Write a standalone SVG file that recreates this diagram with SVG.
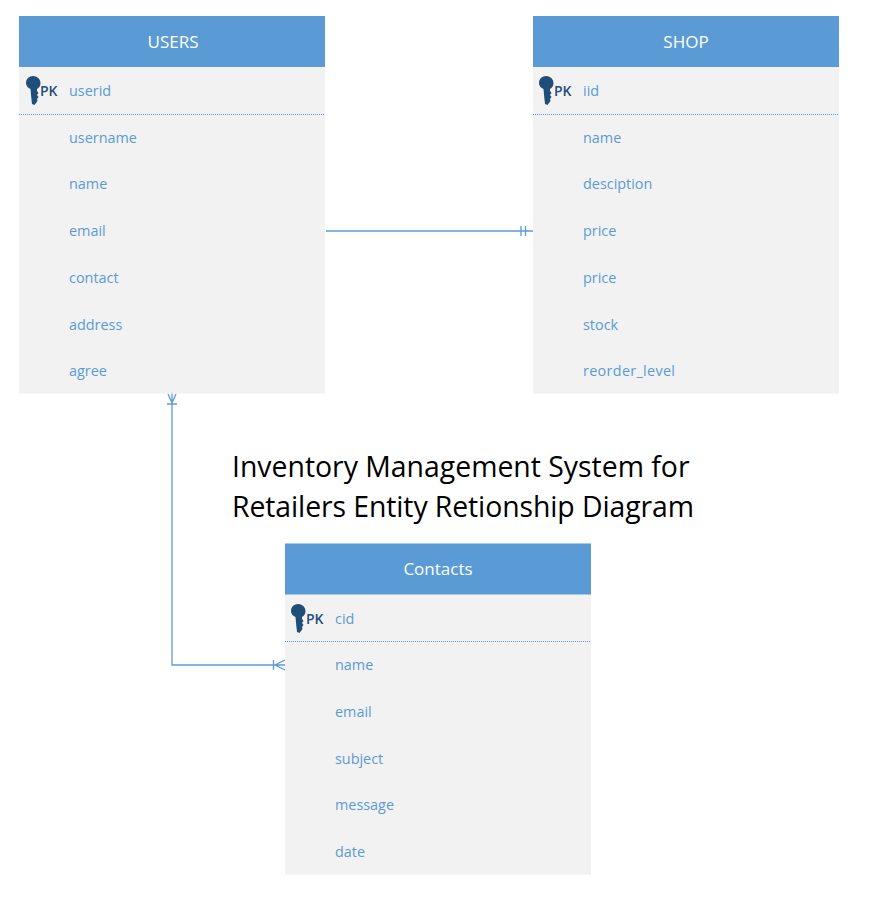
<svg xmlns="http://www.w3.org/2000/svg" width="879" height="897" viewBox="0 0 879 897">
<style>
text{font-family:"Open Sans","Noto Sans","Liberation Sans",sans-serif}
.body{fill:#f2f2f2}
.head{fill:#5b9bd5}
.ht{fill:#fff;font-size:17px;text-anchor:middle}
.f{fill:#5b9bd5;font-size:14.4px}
.pk{fill:#1f4e79;font-size:14px;font-weight:600}
.sep{stroke:#5b9bd5;stroke-width:1;stroke-dasharray:1 1;fill:none}
.c{stroke:#5b9bd5;stroke-width:1.3;fill:none}
.t{fill:#000;font-size:28.4px}
</style>
<defs>
<path id="key" fill="#1f4e79" d="M7-15C11-15 14.500-12 14.500-8C14.500-5 13-3 11-2L11 0L12.500 2L11 4L12.500 6L11 8L11.500 10L8.500 14L6 13L5 4L4.500-2C2-3 0-5 0-8C0-12 3-15 7-15Z"/>
</defs>
<g id="connectors">
<path class="c" d="M326 231H533M521 226V236M525.500 226V236"/>
<path class="c" d="M172 393V665H285M168 394L172 403L176 394M167 404H177M273.500 660V670M285 660L275 665L285 670"/>
</g>
<g id="users">
<rect class="body" x="19" y="16" width="306" height="377.500"/>
<rect class="head" x="19" y="16" width="306" height="51"/>
<text class="ht" x="173" y="48">USERS</text>
<use href="#key" x="26" y="91"/>
<text class="pk" x="40" y="96">PK</text>
<line class="sep" x1="19" y1="114.500" x2="325" y2="114.500"/>
<text class="f" x="69" y="96">userid</text>
<text class="f" x="69" y="143">username</text>
<text class="f" x="69" y="189">name</text>
<text class="f" x="69" y="236">email</text>
<text class="f" x="69" y="283">contact</text>
<text class="f" x="69" y="330">address</text>
<text class="f" x="69" y="376">agree</text>
</g>
<g id="shop">
<rect class="body" x="533" y="16" width="306" height="377.500"/>
<rect class="head" x="533" y="16" width="306" height="51"/>
<text class="ht" x="686" y="48">SHOP</text>
<use href="#key" x="539" y="91"/>
<text class="pk" x="554" y="96">PK</text>
<line class="sep" x1="533" y1="114.500" x2="839" y2="114.500"/>
<text class="f" x="583" y="96">iid</text>
<text class="f" x="583" y="143">name</text>
<text class="f" x="583" y="189">desciption</text>
<text class="f" x="583" y="236">price</text>
<text class="f" x="583" y="283">price</text>
<text class="f" x="583" y="330">stock</text>
<text class="f" x="583" y="376" textLength="92">reorder_level</text>
</g>
<g id="contacts">
<rect class="body" x="285" y="543.500" width="306" height="331"/>
<rect class="head" x="285" y="543.500" width="306" height="51"/>
<text class="ht" x="438" y="575">Contacts</text>
<use href="#key" x="291" y="619"/>
<text class="pk" x="306" y="624">PK</text>
<line class="sep" x1="285" y1="641.500" x2="591" y2="641.500"/>
<text class="f" x="335" y="624">cid</text>
<text class="f" x="335" y="670">name</text>
<text class="f" x="335" y="717">email</text>
<text class="f" x="335" y="764">subject</text>
<text class="f" x="335" y="810">message</text>
<text class="f" x="335" y="857">date</text>
</g>
<g id="title">
<text class="t" x="232" y="477">Inventory Management System for</text>
<text class="t" x="232" y="517" textLength="462">Retailers Entity Retionship Diagram</text>
</g>
</svg>
